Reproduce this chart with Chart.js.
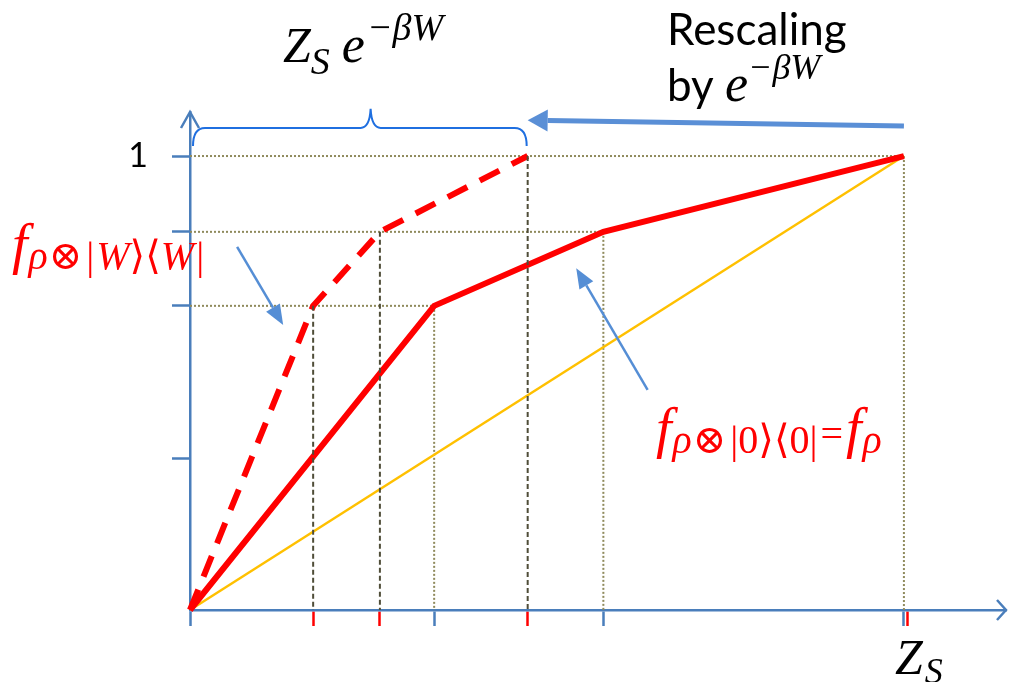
<!DOCTYPE html>
<html>
<head>
<meta charset="utf-8">
<script src="https://cdn.jsdelivr.net/npm/chart.js@4.4.0/dist/chart.umd.min.js"></script>
<style>
  html, body { margin: 0; padding: 0; background: #fff; }
</style>
</head>
<body>
<canvas id="mChart" width="1010" height="682"></canvas>
<script>
// curve of rho (solid), the same curve after rescaling (dashed), diagonal
const solidX = [0, 0.342, 0.579, 1];
const solidY = [0, 0.67, 0.833, 1];
const dashedX = [0, 0.1725, 0.266, 0.473];
const dashedY = [0, 0.67, 0.833, 1];
const diagX = [0, 1];
const diagY = [0, 1];

// tick marks along the axes
const xTicksBlue = [0, 0.342, 0.579, 1];
const xTicksRed = [0.1725, 0.266, 0.473, 1.005];
const yTicks = [0.333, 0.67, 0.833, 1];

const xMax = 1.143;
const yMax = 1.097;

const RED = '#ff0000';
const AXIS = '#4a7ebb';
const OLIVE = '#8f8a5c';
const DARK = '#4f4d38';

const pts = (xs, ys) => xs.map((x, i) => ({x: x, y: ys[i]}));

// lower order is drawn on top
function guide(data, color, dash, width, order) {
    return {
        data: data, borderColor: color, borderWidth: width, borderDash: dash,
        pointRadius: 0, showLine: true, fill: false, clip: false, order: order
    };
}

var guides = [];
solidX.forEach((x, i) => {
    if (!i) return;
    guides.push(guide([{x: 0, y: solidY[i]}, {x: x, y: solidY[i]}], OLIVE, [2, 2], 2, 9));
    guides.push(guide([{x: x, y: solidY[i]}, {x: x, y: 0}], OLIVE, [2, 2], 2, 9));
});
dashedX.forEach((x, i) => {
    if (!i) return;
    guides.push(guide([{x: x, y: dashedY[i]}, {x: x, y: 0}], DARK, [5, 3], 2, 0));
});

const mathFont = s => 'italic ' + s + 'px "Liberation Serif", "DejaVu Serif", serif';
const upFont = s => s + 'px "Liberation Serif", "DejaVu Serif", serif';
const textFont = s => s + 'px Lato, "Open Sans", sans-serif';

function drawRuns(ctx, x, y, runs) {
    runs.forEach(r => {
        ctx.font = r.font;
        ctx.fillStyle = r.color || '#000';
        ctx.fillText(r.text, x, y + (r.dy || 0));
        x += ctx.measureText(r.text).width + (r.dx || 0);
    });
}

function arrow(ctx, x1, y1, x2, y2, color, width, headLen, headW) {
    const a = Math.atan2(y2 - y1, x2 - x1);
    const bx = x2 - Math.cos(a) * headLen, by = y2 - Math.sin(a) * headLen;
    ctx.strokeStyle = color;
    ctx.fillStyle = color;
    ctx.lineWidth = width;
    ctx.beginPath();
    ctx.moveTo(x1, y1);
    ctx.lineTo(bx, by);
    ctx.stroke();
    ctx.beginPath();
    ctx.moveTo(x2, y2);
    ctx.lineTo(bx + Math.sin(a) * headW / 2, by - Math.cos(a) * headW / 2);
    ctx.lineTo(bx - Math.sin(a) * headW / 2, by + Math.cos(a) * headW / 2);
    ctx.closePath();
    ctx.fill();
}

const decor = {
    id: 'decor',
    afterDraw(chart) {
        const ctx = chart.ctx;
        const xs = chart.scales.x, ys = chart.scales.y;
        const px = v => xs.getPixelForValue(v);
        const py = v => ys.getPixelForValue(v);
        const area = chart.chartArea;
        ctx.save();

        // open arrow heads on the axes
        ctx.strokeStyle = AXIS;
        ctx.lineWidth = 2.5;
        ctx.beginPath();
        ctx.moveTo(area.left - 9, area.top + 16);
        ctx.lineTo(area.left, area.top);
        ctx.lineTo(area.left + 9, area.top + 16);
        ctx.moveTo(area.right - 9, area.bottom - 10);
        ctx.lineTo(area.right, area.bottom);
        ctx.lineTo(area.right - 9, area.bottom + 10);
        ctx.stroke();

        // brace over the rescaled width
        const L = px(0) + 3, R = px(dashedX[3]) - 1, M = px(0.253);
        const yb = py(1.062), yt = py(1.022), yp = py(1.104);
        ctx.strokeStyle = '#1f6fe0';
        ctx.lineWidth = 2;
        ctx.beginPath();
        ctx.moveTo(L, yt);
        ctx.quadraticCurveTo(L, yb, L + 12, yb);
        ctx.lineTo(M - 10, yb);
        ctx.quadraticCurveTo(M - 1, yb, M, yp);
        ctx.quadraticCurveTo(M + 1, yb, M + 10, yb);
        ctx.lineTo(R - 12, yb);
        ctx.quadraticCurveTo(R, yb, R, yt);
        ctx.stroke();

        // rescaling arrow and pointer arrows
        arrow(ctx, px(1), py(1.066), px(dashedX[3]), py(1.079), '#5a8fd6', 5, 20, 22);
        arrow(ctx, px(0.066), py(0.80), px(0.1305), py(0.628), '#558ed5', 2.5, 20, 16);
        arrow(ctx, px(0.641), py(0.485), px(0.541), py(0.753), '#558ed5', 2.5, 20, 16);

        // labels
        ctx.textBaseline = 'alphabetic';
        ctx.textAlign = 'left';
        drawRuns(ctx, 283, 62, [
            {text: 'Z', font: mathFont(50)},
            {text: 'S', font: mathFont(38), dy: 12, dx: 12},
            {text: 'e', font: mathFont(52), dx: 2},
            {text: '\u2212\u03B2W', font: mathFont(38), dy: -22}
        ]);
        drawRuns(ctx, 667, 45, [{text: 'Rescaling', font: textFont(44)}]);
        drawRuns(ctx, 667, 101, [
            {text: 'by ', font: textFont(44)},
            {text: 'e', font: mathFont(52)},
            {text: '\u2212\u03B2W', font: mathFont(36), dy: -22}
        ]);
        ctx.font = textFont(34);
        ctx.fillStyle = '#000';
        ctx.textAlign = 'right';
        ctx.fillText('1', px(0) - 42, py(1) + 11);
        ctx.textAlign = 'left';

        drawRuns(ctx, 12, 263, [
            {text: 'f', font: mathFont(56), color: RED, dx: 1},
            {text: '\u03C1', font: mathFont(40), color: RED, dy: 6, dx: 1},
            {text: '\u2297', font: upFont(40), color: RED, dy: 6, dx: 4},
            {text: '|', font: upFont(40), color: RED, dy: 6, dx: 2},
            {text: 'W', font: mathFont(40), color: RED, dy: 6},
            {text: '\u27E9\u27E8', font: upFont(40), color: RED, dy: 6},
            {text: 'W', font: mathFont(40), color: RED, dy: 6, dx: 2},
            {text: '|', font: upFont(40), color: RED, dy: 6}
        ]);
        drawRuns(ctx, 656, 447, [
            {text: 'f', font: mathFont(56), color: RED, dx: 1},
            {text: '\u03C1', font: mathFont(40), color: RED, dy: 6, dx: 1},
            {text: '\u2297', font: upFont(40), color: RED, dy: 6, dx: 4},
            {text: '|0\u27E9\u27E80|', font: upFont(40), color: RED, dy: 6, dx: 3},
            {text: '=', font: upFont(40), color: RED, dx: 3},
            {text: 'f', font: mathFont(56), color: RED, dx: 1},
            {text: '\u03C1', font: mathFont(40), color: RED, dy: 6}
        ]);
        drawRuns(ctx, px(1) - 9, 674, [
            {text: 'Z', font: mathFont(50), dx: 2},
            {text: 'S', font: mathFont(36), dy: 9}
        ]);
        ctx.restore();
    }
};

const blueSet = new Set(xTicksBlue);

var ct = document.getElementById('mChart').getContext('2d');

var mChart = new Chart(ct, {
    type: 'scatter',
    data: {
        datasets: [
            {
                label: 'diagonal',
                data: pts(diagX, diagY),
                borderColor: '#ffc000', borderWidth: 2.5,
                showLine: true, pointRadius: 0, clip: false, order: 3
            },
            ...guides,
            {
                label: 'rho',
                data: pts(solidX, solidY),
                borderColor: RED, borderWidth: 6, borderJoinStyle: 'miter',
                showLine: true, pointRadius: 0, clip: false, order: 2
            },
            {
                label: 'rho x W',
                data: pts(dashedX, dashedY),
                borderColor: RED, borderWidth: 6, borderDash: [22, 14],
                showLine: true, pointRadius: 0, clip: false, order: 1
            }
        ]
    },
    options: {
        responsive: false,
        animation: false,
        devicePixelRatio: 1,
        layout: { padding: { left: 172, right: 4, top: 112, bottom: 56 } },
        plugins: { legend: { display: false }, tooltip: { enabled: false } },
        scales: {
            x: {
                type: 'linear', min: 0, max: xMax,
                border: { color: AXIS, width: 2.5 },
                grid: {
                    drawOnChartArea: false, drawTicks: true, tickLength: 16, tickWidth: 2.5,
                    tickColor: c => (c.tick && blueSet.has(c.tick.value)) ? AXIS : RED
                },
                ticks: { display: false },
                afterBuildTicks: s => {
                    s.ticks = xTicksBlue.concat(xTicksRed).map(v => ({value: v}));
                }
            },
            y: {
                type: 'linear', min: 0, max: yMax,
                border: { color: AXIS, width: 2.5 },
                grid: {
                    drawOnChartArea: false, drawTicks: true, tickLength: 18, tickWidth: 2.5,
                    tickColor: AXIS
                },
                ticks: { display: false },
                afterBuildTicks: s => {
                    s.ticks = yTicks.map(v => ({value: v}));
                }
            }
        }
    },
    plugins: [decor]
});
</script>
</body>
</html>
